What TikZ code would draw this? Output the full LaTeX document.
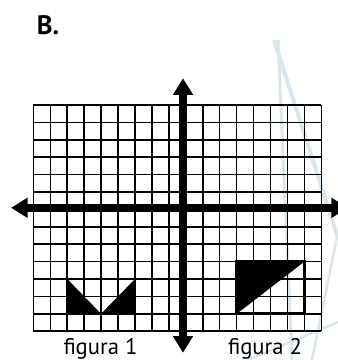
\documentclass[tikz,border=0pt]{standalone}
\usepackage{fontspec}
\setmainfont{PT Sans}
\usepackage{xcolor}
\usepackage{tikz}
\usetikzlibrary{arrows.meta}
\definecolor{watermark}{RGB}{218,230,236}

\begin{document}
\begin{tikzpicture}[
    x=0.75pt, y=-0.75pt,
    wmline/.style={draw=watermark, line cap=butt},
    gridline/.style={draw=black, line width=1.1pt},
    shapeline/.style={draw=black, line width=2pt},
    axis/.style={line width=5.6pt, {Triangle[length=12.4pt,width=14.3pt]}-{Triangle[length=12.4pt,width=14.3pt]}},
    figlabel/.style={anchor=base, font=\fontsize{17}{18}\selectfont, inner sep=0pt},
    title/.style={anchor=base west, font=\bfseries\fontsize{20}{22}\selectfont, inner sep=0pt}
]
\useasboundingbox (0,0) rectangle (338,360);

\draw[wmline, line width=3pt] (274,40) -- (338,238);
\draw[wmline, line width=2.2pt] (278,40) -- (292,360);
\draw[wmline, line width=1.9pt] (338,232) -- (312,360);
\draw[wmline, line width=1.9pt] (248,360) -- (338,322);

\begin{scope}[shift={(33.3,105)}, x=12.7125pt, y=-13.05pt]
  \fill (2,10) -- (2,12) -- (4,12) -- cycle;
  \fill (6,10) -- (6,12) -- (4,12) -- cycle;
  \fill (12,9) -- (16,9) -- (12,12) -- cycle;
  \foreach \i in {0,...,17}
    \draw[gridline] (\i,0) -- (\i,13);
  \foreach \j in {0,...,13}
    \draw[gridline] (0,\j) -- (17,\j);
  \draw[shapeline] (2,10) rectangle (6,12);
  \draw[shapeline] (12,9) rectangle (16,12);
\end{scope}

\coordinate (ytop) at (183,78.3);
\coordinate (ybot) at (183,352.7);
\coordinate (xleft) at (11,207.8);
\coordinate (xright) at (348,207.8);
\draw[axis] (xleft) -- (xright);
\draw[axis] (ybot) -- (ytop);

\node[title] (lbl) at (36.5,34.3) {B.};
\node[figlabel] (fig1) at (100.5,354.3) {figura 1};
\node[figlabel] (fig2) at (265,354.3) {figura 2};
\end{tikzpicture}
\end{document}
